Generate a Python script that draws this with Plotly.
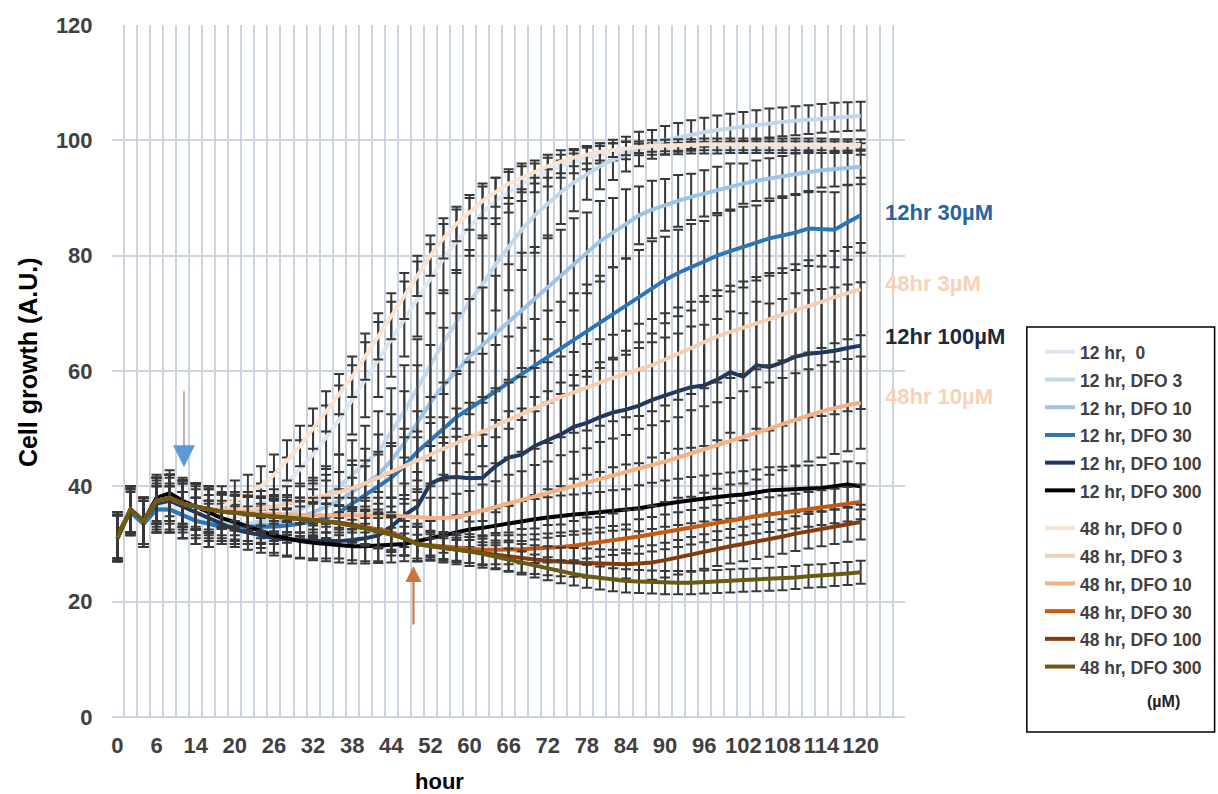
import plotly.graph_objects as go

tick_labels = ["0", "6", "14", "20", "26", "32", "38", "44", "52", "60", "66", "72",
               "78", "84", "90", "96", "102", "108", "114", "120"]

names = ["12 hr,  0", "12 hr, DFO 3", "12 hr, DFO 10", "12 hr, DFO 30", "12 hr, DFO 100",
         "12 hr, DFO 300", "48 hr, DFO 0", "48 hr, DFO 3", "48 hr, DFO 10", "48 hr, DFO 30",
         "48 hr, DFO 100", "48 hr, DFO 300"]
colors = ["#dde7f3", "#c2d6ec", "#9dc3e6", "#2e75b6", "#1f3864", "#000000",
          "#fbe3d2", "#f6cfb2", "#f4b183", "#c55a11", "#843c0c", "#6b5a14"]

h12_0 = [31.5, 35.5, 34, 36.5, 36.5, 35.5, 34.5, 34,
         34, 34.5, 35.5, 37, 38.5, 40.5, 43, 45.5,
         48.5, 51.5, 55, 58.5, 62, 65.5, 69, 72.5,
         76, 79.5, 82.5, 85, 87.5, 89.5, 91, 92.5,
         93.5, 94.5, 95.5, 96.3, 97, 97.5, 98, 98.2,
         98.4, 98.5, 98.6, 98.6, 98.7, 98.7, 98.7, 98.8,
         98.8, 98.8, 98.8, 98.8, 98.8, 98.8, 98.8, 98.8, 98.8, 98.5]
h12_3 = [31.5, 35.5, 33.5, 36, 36, 35, 34, 33.5,
         33.5, 33.5, 33.5, 34, 34.5, 35, 36, 37,
         38.5, 40, 42, 44, 46, 49.5, 53, 57,
         61, 65, 68.5, 72, 75, 78.5, 81.5, 84.5,
         87, 89, 91, 92.7, 94.2, 95.5, 96.6, 97.6,
         98.5, 99.3, 100, 100.5, 101, 101.4, 101.8, 102.1,
         102.4, 102.7, 103, 103.2, 103.4, 103.6, 103.8, 104, 104.1, 104.2]
h12_10 = [31.5, 35.5, 33.5, 36, 36, 35, 34, 33.5,
          33, 33, 33, 33.2, 33.5, 34, 34.5, 35.5,
          36.5, 37.5, 39, 40.5, 42, 44.5, 47.5, 51,
          54.5, 57.5, 60, 62.5, 64.5, 66.5, 68.5, 70.5,
          72.5, 74.5, 76.5, 78.5, 80.5, 82.5, 84, 85.5,
          87, 88, 88.8, 89.5, 90.2, 90.8, 91.4, 92,
          92.5, 93, 93.4, 93.8, 94.2, 94.5, 94.8, 95, 95.2, 95.4]
h12_30 = [31.5, 35.5, 33.5, 36, 36, 35, 34, 33.5,
          33, 33, 33, 33, 33, 33.2, 33.5, 34,
          34.5, 35.5, 37, 38.5, 40, 41.5, 43.5, 46,
          48, 50, 52, 53.5, 55, 56.5, 58, 59.5,
          61, 62.5, 64, 65.5, 67, 68.5, 70, 71.5,
          73, 74.5, 75.8, 77, 78, 79, 80, 80.8,
          81.5, 82.2, 83, 83.5, 84, 84.7, 84.6, 84.5, 85.8, 87]
h12_100 = [31.5, 36, 34, 37, 37.5, 36.5, 35.5, 34.5,
           33.5, 32.5, 32, 31.5, 31, 30.8, 30.6, 30.5,
           30.5, 30.5, 30.7, 31, 31.5, 33, 35, 36.5,
           40.5, 41.5, 41.6, 41.4, 41.5, 43.5, 45, 45.5,
           47, 48, 49, 50.3, 51, 52, 52.8, 53.3,
           54, 55, 55.8, 56.5, 57.2, 57.5, 58.5, 59.8,
           59, 61, 60.7, 61.5, 62.5, 63, 63.2, 63.5, 64, 64.4]
h12_300 = [31, 36, 34, 38, 38.8, 37.5, 36.5, 35.5,
           34.5, 33.8, 33, 32.3, 31.5, 31, 30.5, 30.2,
           30, 29.8, 29.6, 29.6, 29.7, 29.8, 30, 30.5,
           31, 31.5, 32, 32.5, 32.8, 33.2, 33.6, 34,
           34.3, 34.6, 34.9, 35.1, 35.3, 35.5, 35.8, 36,
           36.2, 36.6, 37, 37.3, 37.6, 37.9, 38.2, 38.4,
           38.6, 38.9, 39.3, 39.4, 39.5, 39.6, 39.7, 40, 40.3, 40]
h48_0 = [31, 36, 34, 37.5, 38, 37, 36.5, 36,
         36.5, 37.5, 38.5, 40, 42, 44.5, 47, 50,
         53, 56, 59, 62.5, 66, 69.5, 73, 76.5,
         80, 83, 85.5, 87.5, 89.5, 91, 92.5, 93.5,
         94.5, 95.5, 96.3, 97, 97.5, 98, 98.3, 98.6,
         98.8, 99, 99.1, 99.2, 99.2, 99.3, 99.3, 99.3,
         99.3, 99.3, 99.3, 99.3, 99.3, 99.3, 99.3, 99.2, 99.2, 99.2]
h48_3 = [31, 36, 34, 37.5, 38, 37, 36.5, 36,
         36, 36, 36, 36.2, 36.5, 37, 37.5, 38,
         38.5, 39, 39.7, 40.5, 41.5, 42.5, 43.5, 44.5,
         45.5, 46.5, 47.5, 48.5, 49.5, 50.5, 51.5, 52.5,
         53.5, 54.5, 55.5, 56.3, 57.2, 58, 58.8, 59.5,
         60.2, 61, 62, 63, 64, 65, 66, 66.8,
         67.5, 68.3, 69, 69.8, 70.5, 71.2, 72, 72.8, 73.5, 74.2]
h48_10 = [31, 36, 34, 37.5, 38, 37, 36.5, 36,
          35.8, 35.6, 35.4, 35.3, 35.2, 35.1, 35, 35,
          35, 35, 35, 35, 35, 35, 34.8, 34.6,
          34.5, 34.5, 34.7, 35.2, 35.8, 36.4, 37, 37.6,
          38.2, 38.8, 39.4, 40, 40.6, 41.2, 41.8, 42.4,
          43, 43.6, 44.3, 45, 45.7, 46.4, 47.1, 47.8,
          48.5, 49.2, 50, 50.8, 51.6, 52.3, 53, 53.6, 54.1, 54.5]
h48_30 = [31, 36, 34, 37.5, 38, 37, 36.5, 36,
          35.6, 35.4, 35.2, 35, 34.8, 34.6, 34.4, 34.2,
          34, 33.7, 33.4, 33, 32.5, 32, 31, 30,
          29.8, 29.6, 29.4, 29.2, 29, 29, 29, 29.1,
          29.2, 29.3, 29.5, 29.7, 30, 30.3, 30.6, 30.9,
          31.3, 31.7, 32.1, 32.5, 32.9, 33.3, 33.7, 34.1,
          34.5, 34.8, 35.1, 35.4, 35.7, 36, 36.3, 36.6, 36.9, 37.3]
h48_100 = [31, 36, 34, 37.5, 38, 37, 36.5, 36,
           35.6, 35.4, 35.2, 35, 34.8, 34.6, 34.4, 34.2,
           34, 33.7, 33.3, 32.8, 32.3, 31.7, 31, 30,
           29.6, 29.3, 29, 28.7, 28.4, 28.1, 27.8, 27.5,
           27.3, 27.1, 26.9, 26.8, 26.7, 26.6, 26.5, 26.5,
           26.6, 26.8, 27.2, 27.7, 28.2, 28.7, 29.2, 29.6,
           30, 30.4, 30.8, 31.3, 31.8, 32.2, 32.6, 33, 33.4, 33.8]
h48_300 = [31, 36, 34, 37.5, 38, 37, 36.5, 36,
           35.6, 35.4, 35.2, 35, 34.8, 34.6, 34.4, 34.2,
           34, 33.6, 33.2, 32.7, 32.2, 31.6, 31, 30,
           29.7, 29.4, 29.1, 28.7, 28.3, 27.8, 27.2, 26.7,
           26.2, 25.7, 25.2, 24.8, 24.4, 24.1, 23.8, 23.6,
           23.5, 23.4, 23.3, 23.3, 23.3, 23.4, 23.5, 23.6,
           23.7, 23.8, 23.9, 24, 24.2, 24.4, 24.5, 24.7, 24.9, 25.1]

e12_0 = [4, 3.5, 4, 4, 4, 3.5, 3.5, 3, 3, 3, 3, 3.5, 4, 4.5, 5, 5,
         5.5, 6, 6, 6.5, 6.5, 6.5, 6.5, 6.5, 6, 6, 5.5, 5, 4.5, 4, 3.5, 3,
         2.5, 2.5, 2, 2, 2, 1.5, 1.5, 1.5, 1, 1, 1, 1, 1, 1, 1, 1,
         1, 1, 1, 1, 1, 1, 1, 1, 1, 1]
e12_3 = [4, 4, 4, 4, 4, 4, 4, 4, 3, 3, 3, 3, 3, 3.5, 4, 4.5,
         5, 5.5, 6, 6.5, 7, 7.5, 8, 8.5, 9, 9, 9, 9, 8.5, 8, 7.5, 7,
         6.5, 6, 5.5, 5, 4.5, 4, 3.5, 3, 3, 2.5, 2.5, 2.5, 2.5, 2.5, 2.5, 2.5,
         2.5, 2.5, 2.5, 2.5, 2.5, 2.5, 2.5, 2.5, 2.5, 2.5]
e12_10 = [4, 4, 4, 4, 4, 4, 4, 4, 3, 3, 3, 3, 3, 3, 3.5, 4,
          4.5, 5, 5.5, 6, 7, 8, 9, 10, 10, 10, 10, 10, 10, 10, 10, 10,
          9, 9, 8, 8, 7, 7, 6, 6, 5, 5, 4.5, 4.5, 4, 4, 4, 4,
          3.5, 3.5, 3.5, 3.5, 3.5, 3.5, 3, 3, 3, 3]
e12_30 = [4, 4, 4, 4, 4, 4, 4, 4, 3, 3, 3, 3, 3, 3, 3, 3,
          3.5, 4, 4.5, 5, 5.5, 6, 6.5, 7, 7.5, 8, 8, 8, 8, 8, 8, 8,
          8, 8, 8, 8, 8, 8, 8, 8, 8, 8, 7.5, 7.5, 7.5, 7, 7, 7,
          7, 6.5, 6.5, 6.5, 6.5, 6.5, 6.5, 6.5, 6.5, 6.5]
e12_100 = [4, 4, 4, 4, 4, 4, 4, 4, 3, 3, 3, 3, 3, 3, 3, 3,
           3, 3, 3.5, 4, 4.5, 5, 5.5, 6, 6.5, 7, 7, 7.5, 7.5, 8, 8, 8,
           8.5, 8.5, 9, 9, 9, 9.5, 9.5, 9.5, 10, 10, 10, 10, 10.5, 10.5, 10.5, 10.5,
           11, 11, 11, 11, 11, 11, 11, 11, 11, 11]
e12_300 = [4, 4, 4, 4, 4, 4, 4, 4, 3, 3, 3, 3, 3, 3, 3, 3,
           3, 3, 3, 3, 3, 3, 3, 3, 3, 3, 3, 3, 3, 3, 3, 3.5,
           3.5, 3.5, 3.5, 3.5, 3.5, 3.5, 3.5, 3.5, 4, 4, 4, 4, 4, 4, 4, 4,
           4, 4, 4, 4, 4, 4, 4, 4, 4, 4]
e48_0 = [4, 4, 4, 4, 4, 3.5, 3.5, 3.5, 3.5, 3.5, 3.5, 3.5, 3.5, 3.5, 3.5, 3.5,
         3.5, 3.5, 3.5, 4, 4, 4, 4, 3.5, 3.5, 3.5, 3, 3, 3, 2.5, 2.5, 2.5,
         2, 2, 2, 1.5, 1.5, 1.5, 1.2, 1.2, 1, 1, 1, 1, 1, 1, 1, 1,
         1, 1, 1, 1, 1, 1, 1, 1, 1, 1]
e48_3 = [4, 4, 4, 4, 4, 4, 4, 4, 3, 3, 3, 3, 3, 3, 3, 3,
         3.5, 3.5, 4, 4, 4.5, 4.5, 5, 5, 5.5, 5.5, 6, 6, 6, 6.5, 6.5, 6.5,
         7, 7, 7, 7, 7.5, 7.5, 7.5, 7.5, 8, 8, 8, 8, 8, 8, 8, 8,
         8, 8, 8, 8, 8, 8, 8, 8, 8, 8]
e48_10 = [4, 4, 4, 4, 4, 4, 4, 4, 3, 3, 3, 3, 3, 3, 3, 3,
          3, 3, 3, 3, 3, 3, 3, 3, 3.5, 3.5, 4, 4, 4.5, 4.5, 5, 5,
          5.5, 5.5, 6, 6, 6, 6.5, 6.5, 6.5, 7, 7, 7, 7, 7.5, 7.5, 7.5, 7.5,
          8, 8, 8, 8, 8, 8, 8, 8, 8, 8]
e48_30 = [4, 4, 4, 4, 4, 4, 4, 4, 3, 3, 3, 3, 3, 3, 3, 3,
          3, 3, 3, 3, 3, 3, 3, 3, 2.5, 2.5, 2.5, 2.5, 2.5, 2.5, 2.5, 2.5,
          2.5, 2.5, 2.5, 2.5, 2.5, 2.5, 2.5, 2.5, 3, 3, 3, 3, 3, 3, 3, 3,
          3, 3, 3, 3, 3, 3, 3, 3, 3, 3]
e48_100 = [4, 4, 4, 4, 4, 4, 4, 4, 3, 3, 3, 3, 3, 3, 3, 3,
           3, 3, 3, 3, 3, 3, 3, 3, 2.5, 2.5, 2.5, 2.5, 2.5, 2.5, 2.5, 2.5,
           2.5, 2.5, 2.5, 2.5, 2.5, 2.5, 2.5, 2.5, 3, 3, 3, 3, 3, 3, 3, 3,
           3, 3, 3, 3, 3, 3, 3, 3, 3, 3]
e48_300 = [4, 4, 4, 4, 4, 4, 4, 4, 3, 3, 3, 3, 3, 3, 3, 3,
           3, 3, 3, 3, 3, 3, 3, 3, 2, 2, 2, 2, 2, 2, 2, 2,
           2, 2, 2, 2, 2, 2, 2, 2, 2, 2, 2, 2, 2, 2, 2, 2,
           2, 2, 2, 2, 2, 2, 2, 2, 2, 2]

series = [h12_0, h12_3, h12_10, h12_30, h12_100, h12_300,
          h48_0, h48_3, h48_10, h48_30, h48_100, h48_300]
errors = [e12_0, e12_3, e12_10, e12_30, e12_100, e12_300,
          e48_0, e48_3, e48_10, e48_30, e48_100, e48_300]

n_points = len(h12_0)
x_idx = list(range(n_points))
label_step = (n_points - 1) // (len(tick_labels) - 1)
tick_pos = [i * label_step for i in range(len(tick_labels))]

fig = go.Figure()
for k, (nm, col, ys, es) in enumerate(zip(names, colors, series, errors)):
    fig.add_trace(go.Scatter(
        x=x_idx, y=ys, mode="lines",
        name="<span style='font-size:17.5px'><b>" + nm + "</b></span>",
        legendgroup="g12" if k < 6 else "g48",
        line=dict(color=col, width=4),
        error_y=dict(type="data", array=es, visible=True, color="#383838",
                     thickness=2, width=5),
    ))

W, H = 1218, 794
L, R, T, B = 112, 312, 25, 77
pw, ph = W - L - R, H - T - B


def px(xp):
    return (xp - L) / pw


def py(yp):
    return (H - B - yp) / ph


fig.update_layout(
    width=W, height=H,
    margin=dict(l=L, r=R, t=T, b=B),
    plot_bgcolor="white", paper_bgcolor="white",
    font=dict(family="Liberation Sans, Arial, sans-serif", color="#404040"),
    showlegend=True,
    legend=dict(x=px(1040), y=py(333), xanchor="left", yanchor="top",
                font=dict(size=19, color="#404040"),
                traceorder="grouped", tracegroupgap=10,
                bgcolor="rgba(255,255,255,0)", borderwidth=0),
    xaxis=dict(range=[-0.42, 60.4], tickmode="array", tickvals=tick_pos,
               ticktext=tick_labels, showgrid=False, zeroline=False,
               ticks="outside", ticklen=9, tickcolor="white",
               tickfont=dict(size=22, weight="bold", color="#404040"),
               minor=dict(tick0=0.5, dtick=1, showgrid=True,
                          gridcolor="#ccd5df", gridwidth=2, ticks="")),
    yaxis=dict(range=[0, 120], tickvals=[0, 20, 40, 60, 80, 100, 120],
               showgrid=True, gridcolor="#ccd5df", gridwidth=2,
               zeroline=True, zerolinecolor="#ccd5df", zerolinewidth=2,
               ticks="outside", ticklen=14, tickcolor="white",
               tickfont=dict(size=22, weight="bold", color="#404040")),
)

fig.add_annotation(text="<b>Cell growth (A.U.)</b>", xref="paper", yref="paper",
                   x=px(28), y=py(362), xanchor="center", yanchor="middle",
                   textangle=-90, showarrow=False,
                   font=dict(size=25, color="#000000"))
fig.add_annotation(text="<b>hour</b>", xref="paper", yref="paper",
                   x=px(440), y=py(781), xanchor="center", yanchor="middle",
                   showarrow=False, font=dict(size=22, color="#000000"))

side_labels = [("12hr 30µM", 87.4, "#2563a3", 884),
               ("48hr 3µM", 75.2, "#f6d2b8", 884),
               ("12hr 100µM", 65.9, "#1c2940", 884),
               ("48hr 10µM", 55.6, "#f6d2b8", 884)]
for txt, yv, col, xp in side_labels:
    fig.add_annotation(text="<b>" + txt + "</b>", xref="paper", yref="y",
                       x=px(xp), y=yv, xanchor="left", yanchor="middle",
                       showarrow=False, font=dict(size=22, color=col))

# arrows marking treatment times
fig.add_shape(type="line", xref="x", yref="y", x0=5.1, x1=5.1, y0=56.5, y1=46.5,
              line=dict(color="#b79595", width=1.5))
fig.add_annotation(x=5.1, y=43.3, ax=5.1, ay=47.5, xref="x", yref="y",
                   axref="x", ayref="y", showarrow=True, arrowhead=2,
                   arrowsize=2.2, arrowwidth=2, arrowcolor="#5b9bd5", text="")
fig.add_annotation(x=22.7, y=26.2, ax=22.7, ay=15.8, xref="x", yref="y",
                   axref="x", ayref="y", showarrow=True, arrowhead=2,
                   arrowsize=1.6, arrowwidth=2, arrowcolor="#c8763e", text="")

# legend frame and unit note
fig.add_shape(type="rect", xref="paper", yref="paper",
              x0=px(1028), x1=px(1216), y0=py(732), y1=py(327),
              line=dict(color="#000000", width=1.5))
fig.add_annotation(text="<b>(µM)</b>", xref="paper", yref="paper",
                   x=px(1165), y=py(701), xanchor="center", yanchor="middle",
                   showarrow=False, font=dict(size=16, color="#222222"))

fig.write_html("out.html")
